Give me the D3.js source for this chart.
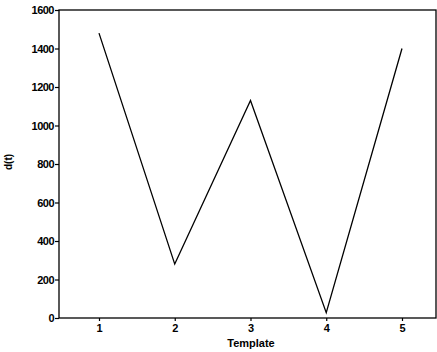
<!DOCTYPE html>
<html><head><meta charset="utf-8">
<script src="https://cdn.jsdelivr.net/npm/d3@7"></script>
<style>body{margin:0;background:#fff}svg{display:block}text{font-family:"Liberation Sans",Arial,sans-serif;font-weight:bold;fill:#000}</style>
</head><body>
<script>
const templates = [1, 2, 3, 4, 5];
const values = [1480, 280, 1130, 28, 1400];
const yTicks = [0, 200, 400, 600, 800, 1000, 1200, 1400, 1600];

const W = 437, H = 352;
const L = 59, R = 436, T = 10, B = 318;
const svg = d3.select("body").append("svg").attr("width", W).attr("height", H);
const x = d3.scaleLinear().domain([0.472, 5.449]).range([L, R]);
const y = d3.scaleLinear().domain([0, 1600]).range([B, T]);

svg.append("rect").attr("x", L).attr("y", T).attr("width", R - L).attr("height", B - T)
  .attr("fill", "none").attr("stroke", "#000").attr("stroke-width", 1.3);

const ya = svg.append("g").attr("transform", `translate(${L},0)`)
  .call(d3.axisLeft(y).tickValues(yTicks).tickSize(4).tickPadding(1).tickFormat(d3.format("d")));
ya.select(".domain").remove();
ya.selectAll("line").attr("stroke", "#000").attr("stroke-width", 1.2);
ya.selectAll("text").style("font-size", "11px").style("letter-spacing", "-0.5px");

const xa = svg.append("g").attr("transform", `translate(0,${B})`)
  .call(d3.axisBottom(x).tickValues(templates).tickSize(3).tickPadding(3).tickFormat(d3.format("d")));
xa.select(".domain").remove();
xa.selectAll("line").attr("stroke", "#000").attr("stroke-width", 1.2);
xa.selectAll("text").style("font-size", "11px");

svg.append("text").attr("x", 251).attr("y", 347).attr("text-anchor", "middle")
  .style("font-size", "11px").text("Template");
svg.append("text").attr("transform", "translate(12,162) rotate(-90)").attr("text-anchor", "middle")
  .style("font-size", "10px").text("d(t)");

svg.append("path").datum(templates.map((t, i) => [t, values[i]]))
  .attr("d", d3.line().x(d => x(d[0])).y(d => y(d[1])))
  .attr("fill", "none").attr("stroke", "#000").attr("stroke-width", 1.3);
</script>
</body></html>
